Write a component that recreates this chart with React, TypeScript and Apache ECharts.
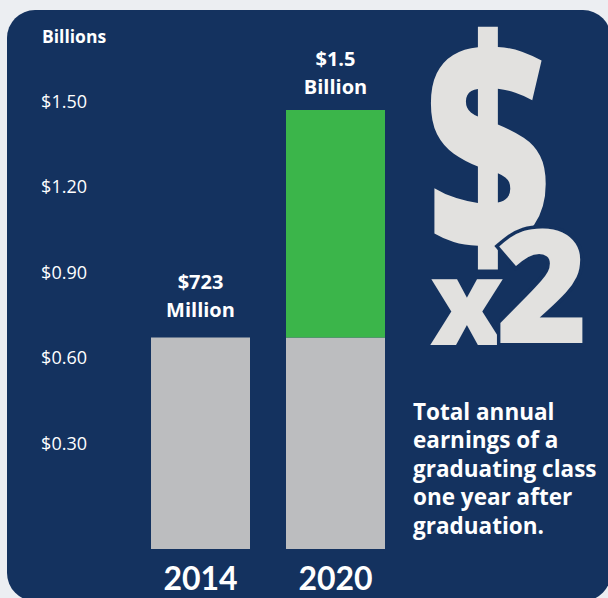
import React, { useEffect, useRef } from "react";
import * as echarts from "echarts";

const categories = ["2014", "2020"];
const baseValues = [0.723, 0.723];
const increaseValues: (number | null)[] = [null, 0.777];
const tickValues = [0.3, 0.6, 0.9, 1.2, 1.5];
const barLabels = ["$723\nMillion", "$1.5\nBillion"];
const axisTitle = "Billions";
const noteText = "Total annual\nearnings of a\ngraduating class\none year after\ngraduation.";

const NAVY = "#14325f";
const GRAY = "#bcbdbf";
const GREEN = "#3bb54a";
const LIGHT = "#e2e1df";
const FONT = "Lato, 'Open Sans', sans-serif";
const BOLD = "'Open Sans', sans-serif";

export default function App() {
  const ref = useRef<HTMLDivElement>(null);
  useEffect(() => {
    if (!ref.current) return;
    const chart = echarts.init(ref.current, undefined, { renderer: "svg" });
    chart.setOption({
      animation: false,
      backgroundColor: "#eceef2",
      title: {
        text: axisTitle,
        left: 37,
        top: 22,
        textStyle: { color: "#ffffff", fontFamily: BOLD, fontWeight: 700, fontSize: 17.5 },
      },
      grid: { left: 133, width: 270, top: 101, bottom: 49, containLabel: false },
      xAxis: {
        type: "category",
        data: categories,
        axisLine: { show: false },
        axisTick: { show: false },
        axisLabel: {
          color: "#ffffff",
          fontFamily: FONT,
          fontWeight: 700,
          fontSize: 32,
          margin: 12,
        },
      },
      yAxis: [
        {
          type: "value",
          min: 0,
          max: 1.5308,
          show: false,
        },
        {
          type: "value",
          position: "left",
          min: -0.072,
          max: 1.5,
          axisLine: { show: false },
          axisTick: { show: false },
          splitLine: { show: false },
          axisLabel: {
            customValues: tickValues,
            color: "#ffffff",
            fontFamily: BOLD,
            fontWeight: 400,
            fontSize: 18,
            margin: 46,
            formatter: (v: number) => "$" + v.toFixed(2),
          },
        },
      ],
      graphic: [
        {
          type: "rect",
          z: -10,
          silent: true,
          shape: { x: 7, y: 10, width: 604, height: 591, r: 28 },
          style: { fill: NAVY },
        },
        {
          type: "text",
          z: 5,
          x: 488,
          y: 137,
          scaleX: 0.82,
          scaleY: 1.12,
          style: {
            text: "$",
            fill: LIGHT,
            fontFamily: BOLD,
            fontWeight: 800,
            fontSize: 265,
            lineHeight: 200,
            align: "center",
            verticalAlign: "middle",
            textAlign: "center",
            textVerticalAlign: "middle",
          },
        },
        {
          type: "text",
          z: 6,
          x: 467,
          y: 299,
          style: {
            text: "x",
            fill: LIGHT,
            fontFamily: BOLD,
            fontWeight: 800,
            fontSize: 118,
            align: "center",
            verticalAlign: "middle",
            textAlign: "center",
            textVerticalAlign: "middle",
          },
        },
        {
          type: "text",
          z: 7,
          x: 542,
          y: 281,
          style: {
            text: "2",
            fill: LIGHT,
            stroke: NAVY,
            lineWidth: 7,
            fontFamily: BOLD,
            fontWeight: 800,
            fontSize: 158,
            align: "center",
            verticalAlign: "middle",
            textAlign: "center",
            textVerticalAlign: "middle",
          },
        },
        {
          type: "text",
          z: 5,
          x: 413,
          y: 397,
          style: {
            text: noteText,
            fill: "#ffffff",
            fontFamily: BOLD,
            fontWeight: 700,
            fontSize: 22.5,
            lineHeight: 28.5,
            align: "left",
            verticalAlign: "top",
            textAlign: "left",
            textVerticalAlign: "top",
          },
        },
      ],
      series: [
        {
          type: "bar",
          name: "2014 level",
          stack: "total",
          yAxisIndex: 0,
          barWidth: 99,
          itemStyle: { color: GRAY },
          data: baseValues.map((v, i) =>
            i === 0
              ? {
                  value: v,
                  label: {
                    show: true,
                    position: "top",
                    distance: 14,
                    formatter: barLabels[0],
                    color: "#ffffff",
                    fontFamily: BOLD,
                    fontWeight: 700,
                    fontSize: 20,
                    lineHeight: 28,
                  },
                }
              : v
          ),
        },
        {
          type: "bar",
          name: "Increase",
          stack: "total",
          yAxisIndex: 0,
          barWidth: 99,
          itemStyle: { color: GREEN },
          label: {
            show: true,
            position: "top",
            distance: 10,
            formatter: barLabels[1],
            color: "#ffffff",
            fontFamily: BOLD,
            fontWeight: 700,
            fontSize: 20,
            lineHeight: 28,
          },
          data: increaseValues,
        },
      ],
    });
    return () => chart.dispose();
  }, []);
  return (
    <div
      ref={ref}
      style={{ position: "absolute", left: 0, top: 0, width: 608, height: 598 }}
    />
  );
}
